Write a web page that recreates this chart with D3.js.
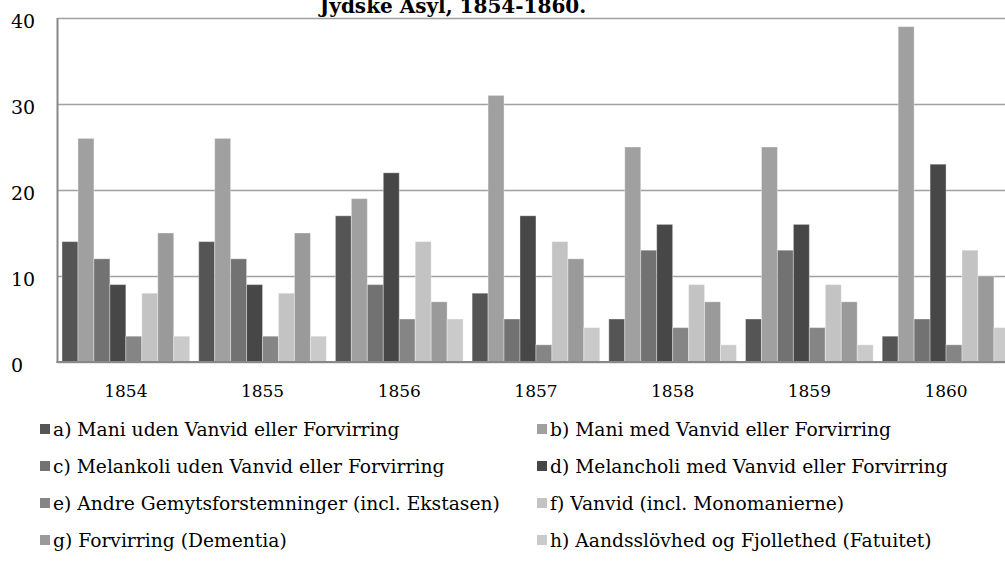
<!DOCTYPE html>
<html>
<head>
<meta charset="utf-8">
<script src="https://cdn.jsdelivr.net/npm/d3@7"></script>
<style>
  body { margin: 0; background: #fff; overflow: hidden; }
  svg { display: block; font-family: "DejaVu Serif", "Liberation Serif", serif; }
</style>
</head>
<body>
<div id="chart"></div>
<script>
// data
var years = ["1854", "1855", "1856", "1857", "1858", "1859", "1860"];
var seriesNames = [
  "a) Mani uden Vanvid eller Forvirring",
  "b) Mani med Vanvid eller Forvirring",
  "c) Melankoli uden Vanvid eller Forvirring",
  "d) Melancholi med Vanvid eller Forvirring",
  "e) Andre Gemytsforstemninger (incl. Ekstasen)",
  "f) Vanvid (incl. Monomanierne)",
  "g) Forvirring (Dementia)",
  "h) Aandsslövhed og Fjollethed (Fatuitet)"
];
var maniUden    = [14, 14, 17, 8, 5, 5, 3];
var maniMed     = [26, 26, 19, 31, 25, 25, 39];
var melankoliUden = [12, 12, 9, 5, 13, 13, 5];
var melancholiMed = [9, 9, 22, 17, 16, 16, 23];
var andre       = [3, 3, 5, 2, 4, 4, 2];
var vanvid      = [8, 8, 14, 14, 9, 9, 13];
var forvirring  = [15, 15, 7, 12, 7, 7, 10];
var aandsslov   = [3, 3, 5, 4, 2, 2, 4];
var yTicks = [0, 10, 20, 30, 40];
var title = "Jydske Asyl, 1854-1860.";

var seriesValues = [maniUden, maniMed, melankoliUden, melancholiMed, andre, vanvid, forvirring, aandsslov];
var colors = ["#555555", "#a0a0a0", "#727272", "#474747", "#858585", "#c3c3c3", "#9a9a9a", "#cacaca"];

function drawChart() {
  var width = 1005, height = 566;
  var plotLeft = 57.5, plotTop = 18, plotBottom = 362;
  var step = 136.7;

  var svg = d3.select("#chart").append("svg")
      .attr("width", width)
      .attr("height", height);

  var x0 = d3.scaleBand()
      .domain(years)
      .range([plotLeft, plotLeft + step * years.length])
      .paddingInner(0.066)
      .paddingOuter(0.033);

  var x1 = d3.scaleBand()
      .domain(d3.range(seriesNames.length))
      .range([0, x0.bandwidth()]);

  var y = d3.scaleLinear()
      .domain([0, 40])
      .range([plotBottom, plotTop]);

  var color = d3.scaleOrdinal().domain(d3.range(seriesNames.length)).range(colors);

  // gridlines + y labels
  var yAxis = svg.append("g")
      .attr("class", "y-axis")
      .attr("transform", "translate(" + plotLeft + ",0)")
      .call(d3.axisLeft(y).tickValues(yTicks).tickSize(-(width - plotLeft)).tickFormat(d3.format("d")));
  yAxis.select(".domain").remove();
  yAxis.selectAll(".tick line").attr("stroke", "#a0a0a0").attr("stroke-width", 1.5);
  yAxis.selectAll(".tick text")
      .attr("x", 11 - plotLeft)
      .attr("dy", "0.5em")
      .style("text-anchor", "start")
      .attr("font-size", 19)
      .attr("fill", "#000")
      .attr("font-family", "DejaVu Serif, serif");

  // bars
  var groups = svg.selectAll(".year")
      .data(years)
      .enter().append("g")
      .attr("class", "year")
      .attr("transform", function(d) { return "translate(" + x0(d) + ",0)"; });

  groups.selectAll("rect")
      .data(function(d, i) { return seriesValues.map(function(s, k) { return { k: k, v: s[i] }; }); })
      .enter().append("rect")
      .attr("x", function(d) { return x1(d.k); })
      .attr("width", x1.bandwidth())
      .attr("y", function(d) { return y(d.v); })
      .attr("height", function(d) { return plotBottom - y(d.v); })
      .attr("fill", function(d) { return color(d.k); })
      .attr("stroke", "rgba(255,255,255,0.35)")
      .attr("stroke-width", 1);

  // axis lines
  svg.append("line")
      .attr("x1", plotLeft).attr("x2", plotLeft)
      .attr("y1", plotTop).attr("y2", plotBottom + 1)
      .attr("stroke", "#888").attr("stroke-width", 2);

  var xAxis = svg.append("g")
      .attr("class", "x-axis")
      .attr("transform", "translate(0," + plotBottom + ")")
      .call(d3.axisBottom(x0).tickSize(0).tickPadding(23));
  xAxis.select(".domain").attr("stroke", "#888").attr("stroke-width", 2)
      .attr("d", "M" + (plotLeft - 1) + ",0H" + width);
  xAxis.selectAll(".tick text")
      .attr("font-size", 17)
      .attr("fill", "#000")
      .attr("font-family", "DejaVu Serif, serif");

  // title (its top is cut by the frame, as in the original)
  svg.append("text")
      .attr("x", 453)
      .attr("y", 13)
      .style("text-anchor", "middle")
      .attr("font-size", 20)
      .attr("font-weight", "bold")
      .text(title);

  // legend
  var rowY = [429, 466, 503, 540];
  var legend = svg.selectAll(".legend")
      .data(seriesNames)
      .enter().append("g")
      .attr("class", "legend")
      .attr("transform", function(d, i) {
        var col = i % 2, row = Math.floor(i / 2);
        return "translate(" + (col === 0 ? 40 : 537) + "," + rowY[row] + ")";
      });

  legend.append("rect")
      .attr("x", 0).attr("y", -5)
      .attr("width", 10).attr("height", 10)
      .attr("fill", function(d, i) { return color(i); });

  legend.append("text")
      .attr("x", 13)
      .attr("dy", "0.35em")
      .attr("font-size", 18.7)
      .text(function(d) { return d; });
}

drawChart();
</script>
</body>
</html>
